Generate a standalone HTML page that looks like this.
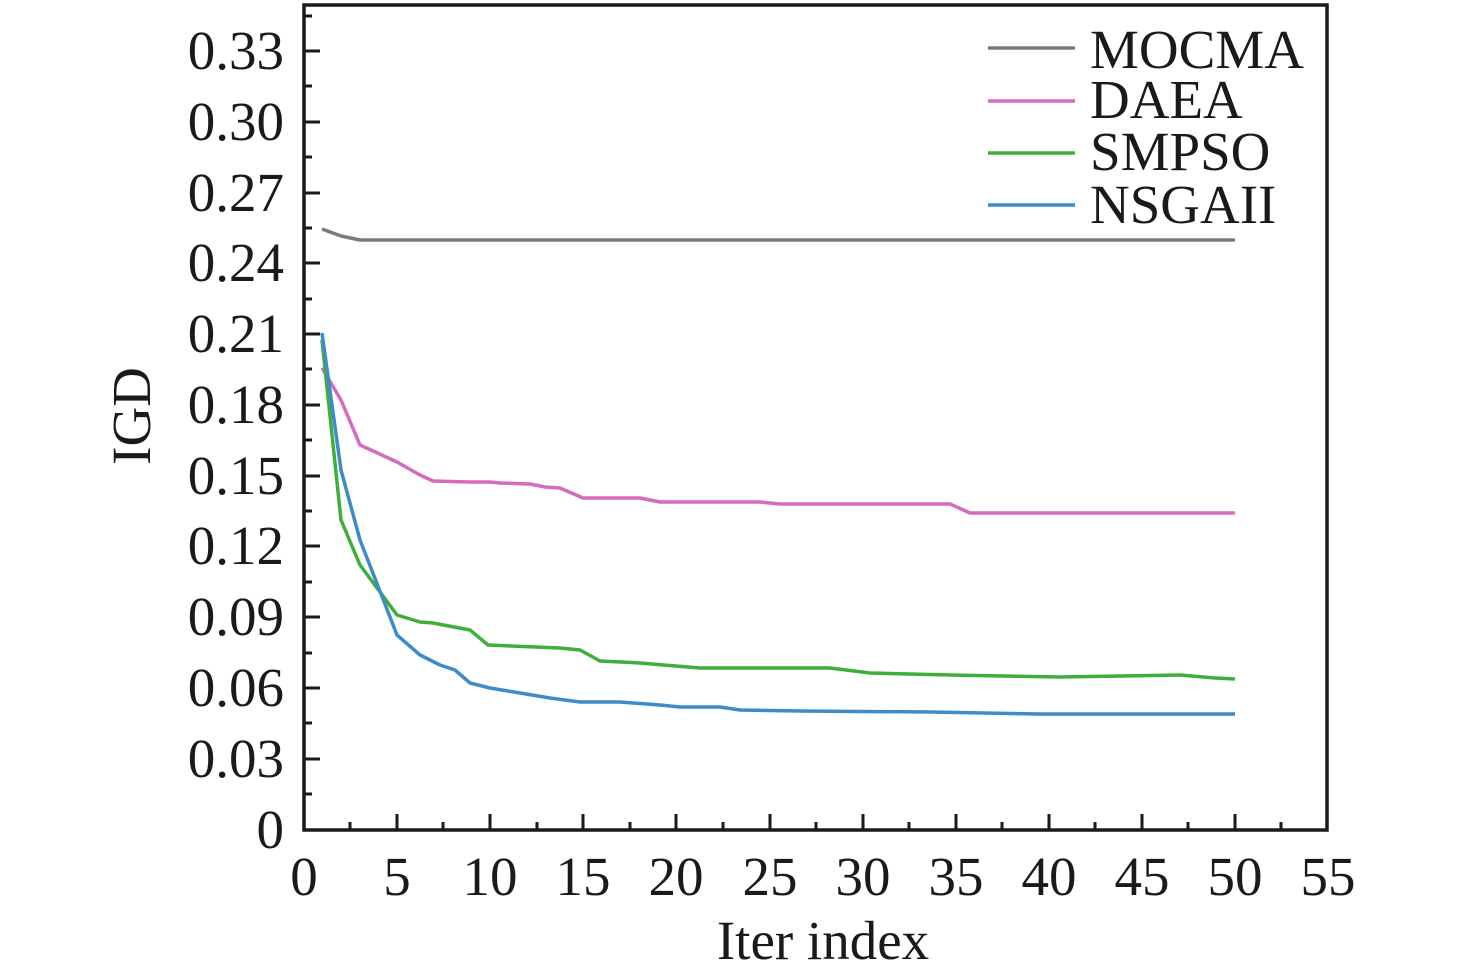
<!DOCTYPE html>
<html><head><meta charset="utf-8"><style>
html,body{margin:0;padding:0;background:#fff;}
svg{display:block;}
text{font-family:"Liberation Serif",serif;fill:#1a1a1a;}
</style></head><body>
<svg width="1476" height="977" viewBox="0 0 1476 977" xmlns="http://www.w3.org/2000/svg">
<g stroke="#1a1a1a" stroke-width="3">
<rect x="304" y="5" width="1023" height="825" fill="none" stroke-width="3.5"/>
<path d="M304 759h16M304 688h16M304 617h16M304 546h16M304 476h16M304 405h16M304 334h16M304 263h16M304 193h16M304 122h16M304 51h16"/>
<path d="M304 794h8M304 723h8M304 653h8M304 582h8M304 511h8M304 440h8M304 369h8M304 299h8M304 228h8M304 157h8M304 86h8M304 16h8"/>
<path d="M397 830v-16M490 830v-16M583 830v-16M676 830v-16M770 830v-16M863 830v-16M956 830v-16M1049 830v-16M1142 830v-16M1235 830v-16"/>
<path d="M350 830v-8M443 830v-8M537 830v-8M630 830v-8M723 830v-8M816 830v-8M909 830v-8M1002 830v-8M1095 830v-8M1188 830v-8M1281 830v-8"/>
</g>
<g font-size="55" text-anchor="end">
<text x="284" y="848">0</text>
<text x="284" y="777">0.03</text>
<text x="284" y="706">0.06</text>
<text x="284" y="635">0.09</text>
<text x="284" y="564">0.12</text>
<text x="284" y="494">0.15</text>
<text x="284" y="423">0.18</text>
<text x="284" y="352">0.21</text>
<text x="284" y="281">0.24</text>
<text x="284" y="211">0.27</text>
<text x="284" y="140">0.30</text>
<text x="284" y="69">0.33</text>
</g>
<g font-size="55" text-anchor="middle">
<text x="304" y="895">0</text><text x="397" y="895">5</text><text x="490" y="895">10</text><text x="583" y="895">15</text><text x="676" y="895">20</text><text x="770" y="895">25</text><text x="863" y="895">30</text><text x="956" y="895">35</text><text x="1049" y="895">40</text><text x="1142" y="895">45</text><text x="1235" y="895">50</text><text x="1328" y="895">55</text>
<text x="823" y="959">Iter index</text>
<text transform="translate(150,416) rotate(-90)">IGD</text>
</g>
<g fill="none" stroke-width="3.5" stroke-linejoin="round">
<polyline stroke="#7a7a80" points="322,229 341,236 360,240 1235,240"/>
<polyline stroke="#d46bbf" points="322,368 341,400 360,445 397,462 420,475 433,481 470,482 490,482 500,483 530,484 545,487 560,488 583,498 640,498 660,502 760,502 780,504 950,504 970,513 1235,513"/>
<polyline stroke="#3fae3a" points="322,340 341,520 360,565 397,615 420,622 433,623 470,630 488,645 560,648 580,650 600,661 640,663 700,668 830,668 870,673 950,675 1060,677 1180,675 1215,678 1235,679"/>
<polyline stroke="#3e8bc8" points="322,333 341,470 360,540 397,635 420,655 440,665 455,670 470,683 490,688 520,693 550,698 580,702 620,702 660,705 680,707 720,707 740,710 800,711 930,712 1040,714 1235,714"/>
</g>
<g stroke-width="3.5">
<line x1="988" y1="48" x2="1075" y2="48" stroke="#7a7a80"/>
<line x1="988" y1="101" x2="1075" y2="101" stroke="#d46bbf"/>
<line x1="988" y1="153" x2="1075" y2="153" stroke="#3fae3a"/>
<line x1="988" y1="205" x2="1075" y2="205" stroke="#3e8bc8"/>
</g>
<g font-size="55">
<text x="1090" y="68">MOCMA</text>
<text x="1090" y="118">DAEA</text>
<text x="1090" y="170">SMPSO</text>
<text x="1090" y="223">NSGAII</text>
</g>
</svg>
</body></html>
